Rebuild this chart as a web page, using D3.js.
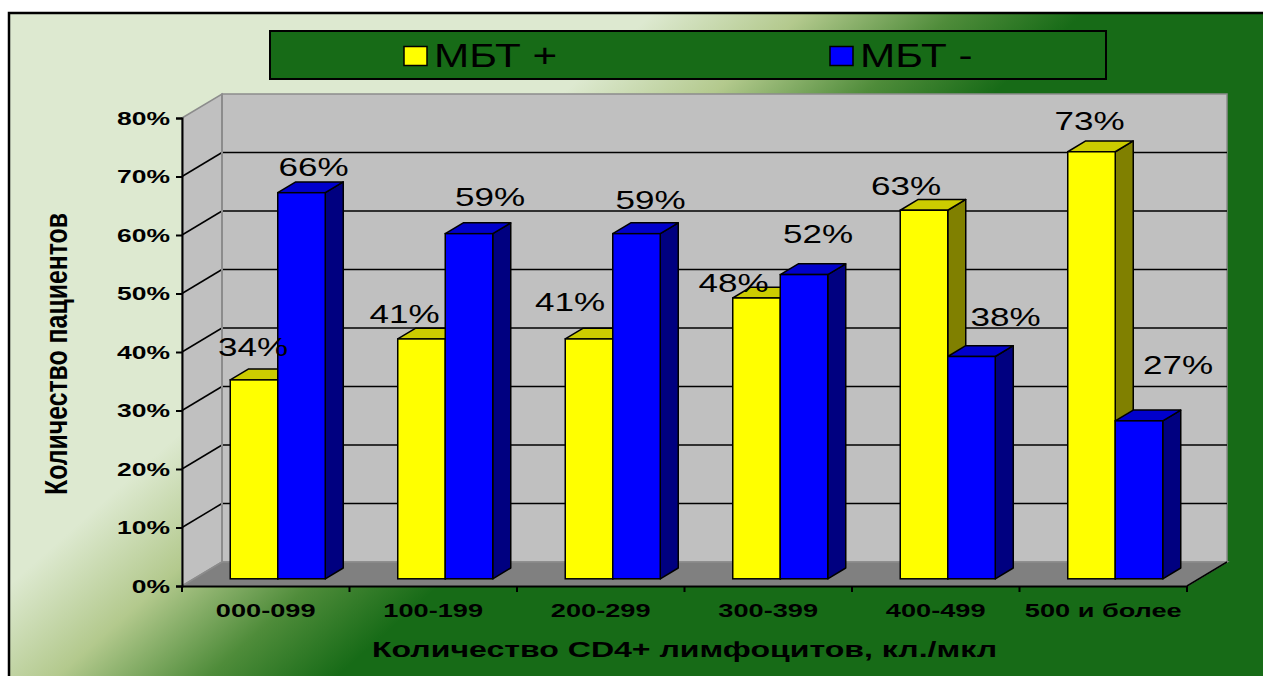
<!DOCTYPE html>
<html>
<head>
<meta charset="utf-8">
<script src="https://cdn.jsdelivr.net/npm/d3@7"></script>
<style>
  html, body { margin: 0; padding: 0; background: #ffffff; }
  svg { display: block; }
  text { font-family: Arial, "Liberation Sans", sans-serif; fill: #000; }
</style>
</head>
<body>
<svg id="chart" width="1263" height="676"></svg>
<script>
// ---- data ----
const categories = ["000-099", "100-199", "200-299", "300-399", "400-499", "500 и более"];
const seriesNames = ["МБТ +", "МБТ -"];
const mbtPositive = [0.34, 0.41, 0.41, 0.48, 0.63, 0.73];
const mbtNegative = [0.66, 0.59, 0.59, 0.52, 0.38, 0.27];
const yTicks = [0, 0.1, 0.2, 0.3, 0.4, 0.5, 0.6, 0.7, 0.8];
const xTitle = "Количество CD4+ лимфоцитов, кл./мкл";
const yTitle = "Количество пациентов";

// ---- layout ----
const W = 1263, H = 676;
const plot = { left: 182, right: 1187, top: 118, bottom: 586 };
const wallDX = 40, wallDY = 24;          // depth of the 3D box
const barFront = 0.3, barDepth = 0.45;   // bar placement inside the depth
const colors = {
  bg0: "#dde9d0", bg1: "#b3c98d", bg2: "#4f8c3a", bg3: "#176b17",
  wall: "#c0c0c0", floor: "#808080", edge: "#8c8c8c",
  series: [
    { front: "#ffff00", top: "#cccc00", side: "#808000" },
    { front: "#0000ff", top: "#0000cc", side: "#000080" }
  ]
};
// value-label nudges relative to the bar top, per series / category
const labelNudge = [
  [[-1, -24], [-17, -16], [-19, -28], [-23, -6], [-18, -15], [-2, -22]],
  [[12, -17], [21, -28], [14, -25], [14, -32], [34, -31], [39, -47]]
];

const svg = d3.select("#chart");
const defs = svg.append("defs");

// background gradient running from the top-left towards the bottom-right
const grad = defs.append("linearGradient")
  .attr("id", "bgGrad").attr("gradientUnits", "userSpaceOnUse")
  .attr("x1", 400).attr("y1", 238).attr("x2", 590).attr("y2", 452);
grad.append("stop").attr("offset", 0).attr("stop-color", colors.bg0);
grad.append("stop").attr("offset", 0.35).attr("stop-color", colors.bg1);
grad.append("stop").attr("offset", 0.7).attr("stop-color", colors.bg2);
grad.append("stop").attr("offset", 1).attr("stop-color", colors.bg3);

svg.append("rect").attr("x", 0).attr("y", 0).attr("width", W).attr("height", H).attr("fill", "#fff");
svg.append("rect")
  .attr("x", 9).attr("y", 13).attr("width", W + 10).attr("height", H + 10)
  .attr("fill", "url(#bgGrad)").attr("stroke", "#000").attr("stroke-width", 2.5);

// stretch text horizontally by a factor
function stretch(sel, k) {
  sel.each(function () {
    const w = this.getComputedTextLength();
    d3.select(this).attr("textLength", w * k).attr("lengthAdjust", "spacingAndGlyphs");
  });
}

// ---- scales ----
const y = d3.scaleLinear().domain([0, 0.8]).range([plot.bottom, plot.top]);
const x = d3.scaleBand().domain(categories).range([plot.left, plot.right]).padding(0);
const xSub = d3.scaleBand().domain(seriesNames).range([0, x.bandwidth()])
  .paddingInner(0).paddingOuter(0.763);

// ---- walls ----
const g = svg.append("g");
// back wall
g.append("rect")
  .attr("x", plot.left + wallDX).attr("y", plot.top - wallDY)
  .attr("width", plot.right - plot.left).attr("height", plot.bottom - plot.top)
  .attr("fill", colors.wall).attr("stroke", colors.edge).attr("stroke-width", 1.5);
// side wall
g.append("polygon")
  .attr("points", [
    [plot.left, plot.top], [plot.left + wallDX, plot.top - wallDY],
    [plot.left + wallDX, plot.bottom - wallDY], [plot.left, plot.bottom]
  ].map(p => p.join(",")).join(" "))
  .attr("fill", colors.wall).attr("stroke", colors.edge).attr("stroke-width", 1.5);
// floor
g.append("polygon")
  .attr("points", [
    [plot.left, plot.bottom], [plot.left + wallDX, plot.bottom - wallDY],
    [plot.right + wallDX, plot.bottom - wallDY], [plot.right, plot.bottom]
  ].map(p => p.join(",")).join(" "))
  .attr("fill", colors.floor).attr("stroke", colors.edge).attr("stroke-width", 1.5);
// floor right edge
g.append("line")
  .attr("x1", plot.right).attr("y1", plot.bottom)
  .attr("x2", plot.right + wallDX).attr("y2", plot.bottom - wallDY)
  .attr("stroke", "#000").attr("stroke-width", 1.5);

// gridlines on back and side walls
const gridVals = yTicks.filter(v => v > 0 && v < 0.8);
g.selectAll(".gridBack").data(gridVals).join("line")
  .attr("x1", plot.left + wallDX).attr("x2", plot.right + wallDX)
  .attr("y1", d => y(d) - wallDY).attr("y2", d => y(d) - wallDY)
  .attr("stroke", "#000").attr("stroke-width", 1.5);
g.selectAll(".gridSide").data(gridVals).join("line")
  .attr("x1", plot.left).attr("x2", plot.left + wallDX)
  .attr("y1", d => y(d)).attr("y2", d => y(d) - wallDY)
  .attr("stroke", "#000").attr("stroke-width", 1.5);
// back-left corner edge
g.append("line")
  .attr("x1", plot.left + wallDX).attr("x2", plot.left + wallDX)
  .attr("y1", plot.top - wallDY).attr("y2", plot.bottom - wallDY)
  .attr("stroke", colors.edge).attr("stroke-width", 2);

// ---- axes ----
const yAxis = d3.axisLeft(y).tickValues(yTicks).tickSize(6).tickFormat(d3.format(".0%"));
const yAxisG = svg.append("g").attr("transform", `translate(${plot.left},0)`).call(yAxis);
yAxisG.select(".domain").attr("stroke", "#000").attr("stroke-width", 2);
yAxisG.selectAll(".tick line").attr("stroke", "#000").attr("stroke-width", 2);
yAxisG.selectAll(".tick text")
  .attr("x", -12).attr("dy", "0.36em")
  .style("font-family", "Arial, 'Liberation Sans', sans-serif")
  .style("font-size", "18px").style("font-weight", "bold").attr("fill", "#000")
  .call(stretch, 1.47);

const xAxis = d3.axisBottom(x).tickValues([]).tickSizeOuter(0);
const xAxisG = svg.append("g").attr("transform", `translate(0,${plot.bottom})`).call(xAxis);
xAxisG.select(".domain").attr("stroke", "#000").attr("stroke-width", 2);
// tick marks at category boundaries
xAxisG.selectAll(".bound").data(categories.map(c => x(c)).concat([plot.right])).join("line")
  .attr("x1", d => d).attr("x2", d => d).attr("y1", 0).attr("y2", 6)
  .attr("stroke", "#000").attr("stroke-width", 2);
xAxisG.selectAll(".catLabel").data(categories).join("text")
  .attr("x", d => x(d) + x.bandwidth() / 2).attr("y", 31)
  .attr("text-anchor", "middle")
  .style("font-size", "19px").style("font-weight", "bold")
  .text(d => d)
  .call(stretch, 1.43);

// ---- bars ----
const fx = barFront * wallDX, fy = barFront * wallDY;
const bx = barDepth * wallDX, by = barDepth * wallDY;
const seriesValues = [mbtPositive, mbtNegative];
const bars = svg.append("g");
categories.forEach((cat, ci) => {
  seriesNames.forEach((s, si) => {
    const v = seriesValues[si][ci];
    const x0 = x(cat) + xSub(s) + fx;
    const w = xSub.bandwidth();
    const yt = y(v) - fy, yb = y(0) - fy;
    const c = colors.series[si];
    const bg = bars.append("g");
    bg.append("polygon")
      .attr("points", [[x0 + w, yt], [x0 + w + bx, yt - by], [x0 + w + bx, yb - by], [x0 + w, yb]].map(p => p.join(",")).join(" "))
      .attr("fill", c.side).attr("stroke", "#000").attr("stroke-width", 1.5).attr("stroke-linejoin", "round");
    bg.append("polygon")
      .attr("points", [[x0, yt], [x0 + w, yt], [x0 + w + bx, yt - by], [x0 + bx, yt - by]].map(p => p.join(",")).join(" "))
      .attr("fill", c.top).attr("stroke", "#000").attr("stroke-width", 1.5).attr("stroke-linejoin", "round");
    bg.append("rect")
      .attr("x", x0).attr("y", yt).attr("width", w).attr("height", yb - yt)
      .attr("fill", c.front).attr("stroke", "#000").attr("stroke-width", 1.5);
  });
});

// ---- value labels ----
const labels = svg.append("g");
categories.forEach((cat, ci) => {
  seriesNames.forEach((s, si) => {
    const v = seriesValues[si][ci];
    const cx = x(cat) + xSub(s) + xSub.bandwidth() / 2 + fx;
    const nudge = labelNudge[si][ci];
    labels.append("text")
      .attr("x", cx + nudge[0]).attr("y", y(v) - fy + nudge[1])
      .attr("text-anchor", "middle")
      .style("font-size", "25px")
      .text(d3.format(".0%")(v))
      .call(stretch, 1.4);
  });
});

// ---- axis titles ----
svg.append("text")
  .attr("x", (plot.left + plot.right) / 2).attr("y", 657)
  .attr("text-anchor", "middle")
  .style("font-size", "21.5px").style("font-weight", "bold")
  .attr("textLength", 625).attr("lengthAdjust", "spacingAndGlyphs")
  .text(xTitle);
svg.append("text")
  .attr("transform", "translate(67,354) rotate(-90)")
  .attr("text-anchor", "middle")
  .style("font-size", "31px").style("font-weight", "bold")
  .attr("textLength", 282).attr("lengthAdjust", "spacingAndGlyphs")
  .text(yTitle);

// ---- legend ----
const legend = svg.append("g");
legend.append("rect")
  .attr("x", 270).attr("y", 31).attr("width", 836).attr("height", 48)
  .attr("fill", colors.bg3).attr("stroke", "#000").attr("stroke-width", 2);
const legendX = d3.scalePoint().domain(seriesNames).range([404, 830]);
seriesNames.forEach((s, si) => {
  const lx = legendX(s);
  legend.append("rect")
    .attr("x", lx).attr("y", 46.5).attr("width", 23).attr("height", 19)
    .attr("fill", colors.series[si].front).attr("stroke", "#000").attr("stroke-width", 1.5);
  legend.append("text")
    .attr("x", lx + 30).attr("y", 67)
    .style("font-size", "33px")
    .text(s)
    .call(stretch, 1.28);
});
</script>
</body>
</html>
